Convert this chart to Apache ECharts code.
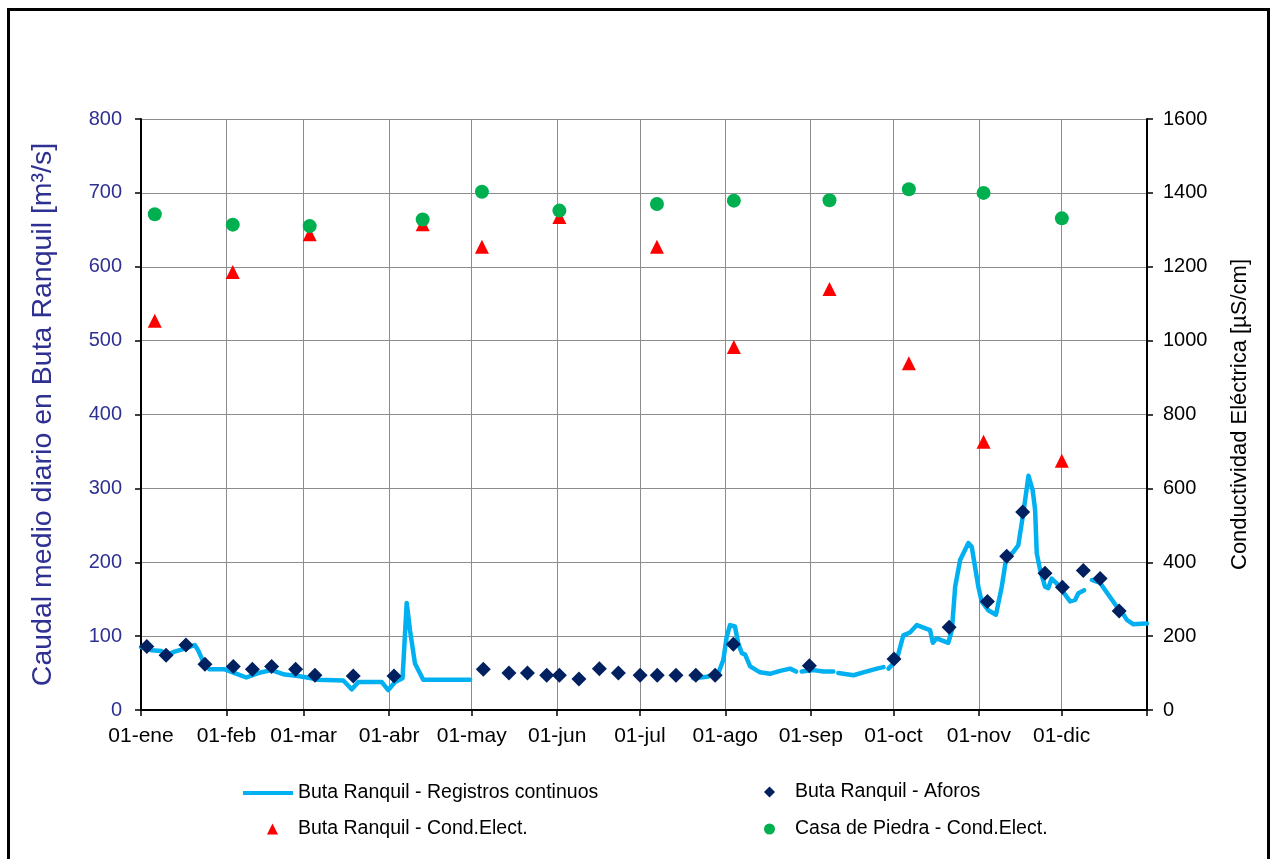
<!DOCTYPE html>
<html>
<head>
<meta charset="utf-8">
<script src="https://cdn.jsdelivr.net/npm/echarts@6/dist/echarts.min.js"></script>
<style>
html,body{margin:0;padding:0;background:#fff}
#c{width:1272px;height:859px}
</style>
</head>
<body>
<div id="c"></div>
<script>
// ---- Data ----
const monthLabels = ['01-ene','01-feb','01-mar','01-abr','01-may','01-jun','01-jul','01-ago','01-sep','01-oct','01-nov','01-dic'];
const monthStartDays = [0,31,59,90,120,151,181,212,243,273,304,334];
const yearEndDay = 365;

// Buta Ranquil - Registros continuos (day of year, m3/s); null = gap in record
const flowDays = [0,3.7,7.4,9.2,12.2,15.9,19.5,20.7,23.1,24.9,30.4,34,38.2,42.5,47.3,52.1,57,61.8,64.2,73.4,76.5,78.9,87.3,89.7,92.2,94.9,96.4,97.6,99.4,102.4,119.4,
  160,
  200.4,205.3,209.5,211.3,212.5,213.7,215.5,216.7,218,219.2,221,224.6,228.2,231.9,235.5,237.7,
  238.7,
  239.7,244,247.6,251.2,
  252.1,
  253,258.5,262.1,267,269.4,
  270.3,
  271.2,274.2,276.6,279,281.5,286.3,287.3,288.7,292.9,294.2,295.4,297.2,300.2,301.4,303.8,305,307.4,310.2,312.3,313.9,316.5,318.3,320.1,322,323.5,324.4,325,326.2,328,329.2,330.4,332.8,335.3,337.1,338.9,340.1,342.2,
  343.6,
  345,348,351,354,355.8,357.7,360.1,364.4,365];
const flowValues = [85,81,80,74,79,83,88,81,61,55,55,50,44,50,54,48,46,43,41,40,28,38,38,27,38,43,145,108,63,41,41,
  null,
  43,45,50,68,99,115,113,90,77,75,59,51,49,53,56,52,
  null,
  52,54,52,52,
  null,
  50,47,51,56,58,
  null,
  56,68,101,105,115,108,91,97,91,108,167,203,226,221,167,147,135,129,167,205,214,223,266,317,298,271,212,190,167,165,178,169,156,147,149,158,162,
  null,
  176,172,156,140,133,122,116,117,117];

// Buta Ranquil - Aforos (day of year, m3/s)
const aforoDays = [2.1,9.1,16.3,23.2,33.5,40.4,47.4,56.1,63.1,77,91.8,124.2,133.5,140.2,147.2,151.8,158.9,166.3,173.2,181.1,187.3,194.1,201.3,208.3,214.9,242.5,273.2,293.2,307.1,314.1,319.9,328,334.3,341.9,348,354.9];
const aforoValues = [86,74,88,62,59,55,59,55,47,46,46,55,50,50,47,47,42,56,50,47,47,47,47,47,89,60,69,112,147,208,268,185,166,189,178,134];

// Conductividad eléctrica (day of year, µS/cm)
const condDays = [5,33.3,61.2,102.2,123.7,151.8,187.2,215.1,249.8,278.6,305.7,334.1];
const condButaValues = [1054,1186,1288,1315,1254,1335,1254,983,1140,939,726,675];
const condCasaValues = [1342,1314,1310,1328,1403,1352,1370,1379,1380,1410,1400,1331];

// ---- Chart ----
const FONT = '"Liberation Sans", Arial, sans-serif';
const S1 = 'Buta Ranquil - Registros continuos';
const S2 = 'Buta Ranquil - Aforos';
const S3 = 'Buta Ranquil - Cond.Elect.';
const S4 = 'Casa de Piedra - Cond.Elect.';

const chart = echarts.init(document.getElementById('c'), null, {renderer: 'canvas'});
const axisBlack = {show: true, lineStyle: {color: '#000', width: 2}};
const tickBlack = {show: true, inside: false, length: 6, lineStyle: {color: '#000', width: 1.5}};
const legendText = {fontSize: 19.5, color: '#000', fontFamily: FONT, lineHeight: 20};
const legendTextPad = Object.assign({}, legendText, {padding: [0, 0, 0, 15]});
const lineIcon = 'path://M0,0 L50,0 L50,4 L0,4 Z';

function symLegend(name, icon, left, top) {
  return {left: left, top: top, orient: 'vertical', itemWidth: 11, itemHeight: 11,
          data: [{name: name, icon: icon}], textStyle: legendTextPad};
}

chart.setOption({
  animation: false,
  backgroundColor: '#fff',
  textStyle: {fontFamily: FONT},
  grid: {left: 141, right: 125, top: 119, bottom: 149, containLabel: false},
  graphic: [{
    type: 'rect', silent: true, z: 100,
    shape: {x: 8.5, y: 9.5, width: 1260, height: 900},
    style: {fill: 'none', stroke: '#000', lineWidth: 3}
  }],
  legend: [
    {left: 238, top: 778, orient: 'vertical', itemWidth: 50, itemHeight: 10,
     data: [{name: S1, icon: lineIcon}], textStyle: legendText},
    symLegend(S3, 'triangle', 262, 814),
    symLegend(S2, 'diamond', 759, 777),
    symLegend(S4, 'circle', 759, 814)
  ],
  xAxis: {
    type: 'value', min: 0, max: yearEndDay,
    axisLine: axisBlack,
    axisTick: Object.assign({}, tickBlack, {customValues: monthStartDays.concat([yearEndDay])}),
    axisLabel: {
      customValues: monthStartDays,
      formatter: v => monthLabels[monthStartDays.indexOf(v)],
      fontSize: 21, color: '#000', margin: 16, fontFamily: FONT
    },
    splitLine: {show: true, lineStyle: {color: '#8c8c8c', width: 1}}
  },
  yAxis: [
    {
      type: 'value', position: 'left', min: 0, max: 800, interval: 100,
      axisLine: axisBlack, axisTick: tickBlack,
      axisLabel: {fontSize: 20, color: '#2e3192', margin: 19, fontFamily: FONT},
      splitLine: {show: true, lineStyle: {color: '#8c8c8c', width: 1}},
      name: 'Caudal medio diario en Buta Ranquil [m³/s]',
      nameLocation: 'middle', nameRotate: 90, nameGap: 83,
      nameTextStyle: {fontSize: 28.5, color: '#2e3192', fontFamily: FONT}
    },
    {
      type: 'value', position: 'right', min: 0, max: 1600, interval: 200,
      axisLine: axisBlack, axisTick: tickBlack,
      axisLabel: {fontSize: 20, color: '#000', margin: 16, fontFamily: FONT, formatter: v => String(v)},
      splitLine: {show: false},
      name: 'Conductividad Eléctrica [µS/cm]',
      nameLocation: 'middle', nameRotate: 90, nameGap: 82,
      nameTextStyle: {fontSize: 22, color: '#000', fontFamily: FONT}
    }
  ],
  series: [
    {
      name: S1, type: 'line', yAxisIndex: 0, z: 2,
      data: flowDays.map((d, i) => [d, flowValues[i] == null ? '-' : flowValues[i]]),
      showSymbol: false, symbol: 'none', connectNulls: false,
      lineStyle: {color: '#00b0f0', width: 4.5, join: 'round', cap: 'round'},
      itemStyle: {color: '#00b0f0'}
    },
    {
      name: S2, type: 'scatter', yAxisIndex: 0, z: 3,
      data: aforoDays.map((d, i) => [d, aforoValues[i]]),
      symbol: 'diamond', symbolSize: 15,
      itemStyle: {color: '#002060', opacity: 1}
    },
    {
      name: S3, type: 'scatter', yAxisIndex: 1, z: 4,
      data: condDays.map((d, i) => [d, condButaValues[i]]),
      symbol: 'triangle', symbolSize: 14,
      itemStyle: {color: '#ff0000', opacity: 1}
    },
    {
      name: S4, type: 'scatter', yAxisIndex: 1, z: 5,
      data: condDays.map((d, i) => [d, condCasaValues[i]]),
      symbol: 'circle', symbolSize: 14,
      itemStyle: {color: '#00b050', opacity: 1}
    }
  ]
});
</script>
</body>
</html>
